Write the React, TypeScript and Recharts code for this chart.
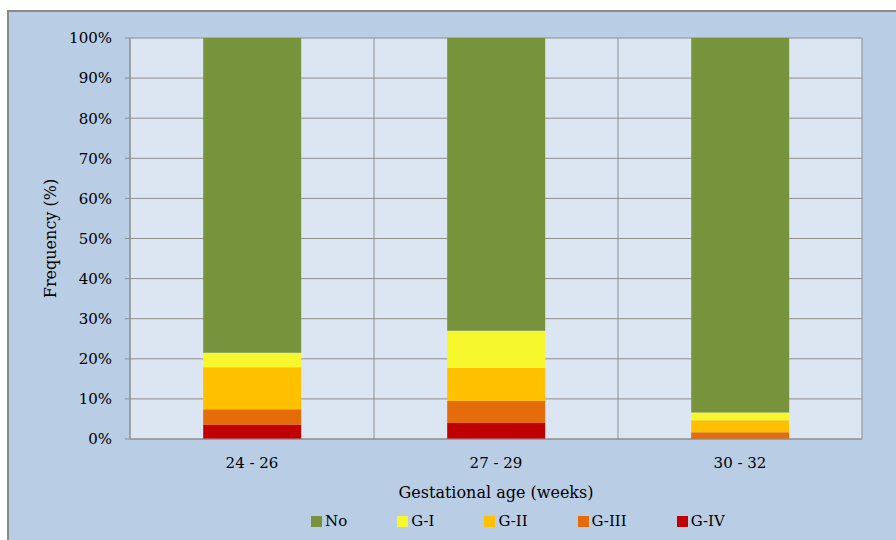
import React from 'react';
import { BarChart, Bar, XAxis, YAxis, CartesianGrid, Legend, Label } from 'recharts';

const categories = ['24 - 26', '27 - 29', '30 - 32'];
const seriesNames = ['G-IV', 'G-III', 'G-II', 'G-I', 'No'];
const gIV = [3.5, 4.0, 0];
const gIII = [3.9, 5.5, 1.7];
const gII = [10.5, 8.2, 3.0];
const gI = [3.6, 9.3, 1.9];
const no = [78.5, 73.0, 93.4];
const yTicks = [0, 10, 20, 30, 40, 50, 60, 70, 80, 90, 100];
const legendOrder = ['No', 'G-I', 'G-II', 'G-III', 'G-IV'];

const colors: Record<string, string> = {
  No: '#77933C',
  'G-I': '#F7F72E',
  'G-II': '#FFC000',
  'G-III': '#E46C0A',
  'G-IV': '#C00000',
};

const seriesValues: Record<string, number[]> = {
  'G-IV': gIV,
  'G-III': gIII,
  'G-II': gII,
  'G-I': gI,
  No: no,
};

const data = categories.map((c, i) => {
  const row: Record<string, string | number> = { cat: c };
  seriesNames.forEach((s) => {
    row[s] = seriesValues[s][i];
  });
  return row;
});

const FONT = '"DejaVu Serif", serif';

const LegendContent = () => (
  <div style={{ display: 'flex', paddingLeft: 311, fontFamily: FONT, fontSize: 15, color: '#000', alignItems: 'center', height: 32 }}>
    {legendOrder.map((s, i) => (
      <div key={s} style={{ display: 'flex', alignItems: 'center', marginRight: i < legendOrder.length - 1 ? 50 : 0 }}>
        <span style={{ display: 'inline-block', width: 11, height: 11, background: colors[s], marginRight: 3 }} />
        <span>{s}</span>
      </div>
    ))}
  </div>
);

export default function App() {
  return (
    <div style={{ position: 'absolute', left: 0, top: 0, width: 896, height: 540, background: '#fff' }}>
      <div
        style={{
          position: 'absolute',
          left: 7,
          top: 10,
          right: 0,
          bottom: 0,
          background: '#B9CDE5',
          borderTop: '2px solid #8A8A8A',
          borderLeft: '2px solid #8A8A8A',
        }}
      />
      <div style={{ position: 'absolute', left: 0, top: 0 }}>
        <BarChart
          width={896}
          height={540}
          data={data}
          margin={{ top: 38, right: 34, left: 0, bottom: 6 }}
          barCategoryGap="30%"
        >
          <CartesianGrid
            fill="#DCE6F2"
            stroke="#8E8E8E"
            strokeWidth={1}
            verticalCoordinatesGenerator={({ offset }: any) =>
              [0, 1, 2, 3].map((i) => offset.left + (i * offset.width) / categories.length)
            }
          />
          <XAxis
            dataKey="cat"
            height={63}
            tickLine={false}
            axisLine={{ stroke: '#8E8E8E' }}
            tickMargin={12}
            tick={{ fontFamily: FONT, fontSize: 15, fill: '#000' }}
          >
            <Label
              value="Gestational age (weeks)"
              position="insideBottom"
              offset={4}
              style={{ fontFamily: FONT, fontSize: 16, fill: '#000' }}
            />
          </XAxis>
          <YAxis
            width={130}
            domain={[0, 100]}
            ticks={yTicks}
            interval={0}
            tickFormatter={(v: number) => `${v}%`}
            tickSize={5}
            tickMargin={13}
            tickLine={{ stroke: '#8E8E8E' }}
            axisLine={{ stroke: '#8E8E8E' }}
            tick={{ fontFamily: FONT, fontSize: 15, fill: '#000' }}
          >
            <Label
              value="Frequency (%)"
              angle={-90}
              position="insideLeft"
              offset={50}
              style={{ fontFamily: FONT, fontSize: 16, fill: '#000', textAnchor: 'middle' }}
            />
          </YAxis>
          <Legend
            verticalAlign="bottom"
            height={32}
            content={LegendContent}
            wrapperStyle={{ left: 0, width: 896, bottom: 3 }}
          />
          {seriesNames.map((s) => (
            <Bar key={s} dataKey={s} name={s} stackId="a" fill={colors[s]} isAnimationActive={false} />
          ))}
        </BarChart>
      </div>
    </div>
  );
}
